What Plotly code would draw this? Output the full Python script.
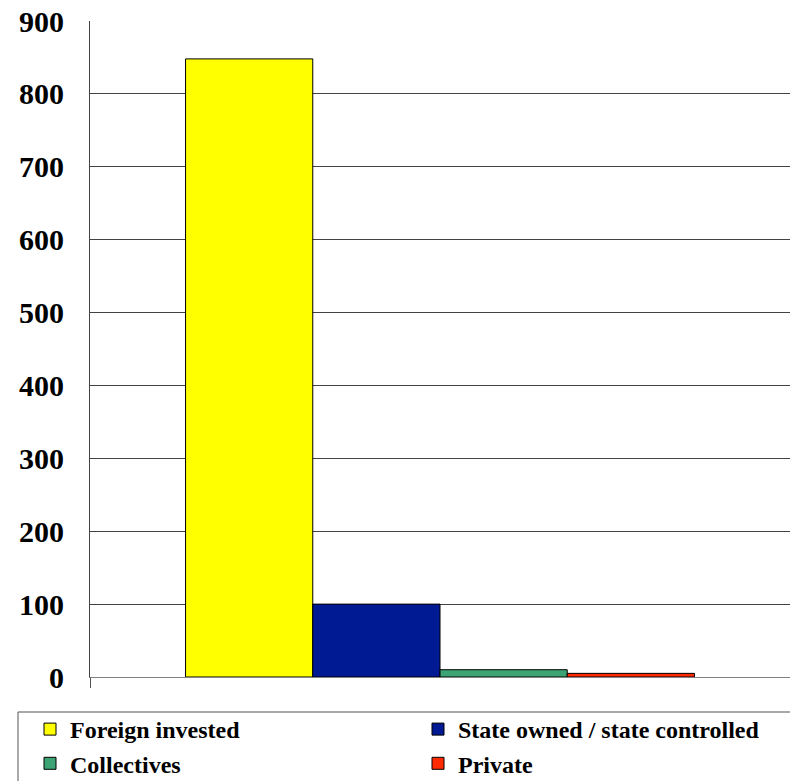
import plotly.graph_objects as go

# Ownership categories and their values
series_names = ["Foreign invested", "State owned / state controlled", "Collectives", "Private"]
series_values = [848, 100, 10, 5]
series_colors = ["#FFFF00", "#001A94", "#3CA474", "#FF2A00"]
category = [""]
y_ticks = [0, 100, 200, 300, 400, 500, 600, 700, 800, 900]

W, H = 790, 781
M_L, M_R, M_T, M_B = 90, 0, 21, 104
plot_w = W - M_L - M_R
plot_h = H - M_T - M_B


def px_x(p):
    return (p - M_L) / plot_w


def px_y(p):
    return (H - M_B - p) / plot_h


fig = go.Figure()
for name, val, col in zip(series_names, series_values, series_colors):
    fig.add_trace(go.Bar(
        x=category, y=[val], name=name,
        marker=dict(color=col, line=dict(color="#000000", width=1)),
    ))

serif = "Liberation Serif, Times New Roman, serif"

fig.update_layout(
    width=W, height=H,
    margin=dict(l=M_L, r=M_R, t=M_T, b=M_B, pad=0, autoexpand=False),
    paper_bgcolor="white", plot_bgcolor="white",
    barmode="group", bargap=0.273, bargroupgap=0,
    showlegend=True,
    legend=dict(
        orientation="h",
        x=px_x(30), xanchor="left",
        y=px_y(707), yanchor="top",
        entrywidth=343, entrywidthmode="pixels",
        itemwidth=30,
        font=dict(family=serif, size=24, color="#000000", weight="bold"),
        bgcolor="rgba(0,0,0,0)", borderwidth=0,
        traceorder="normal",
    ),
    xaxis=dict(
        range=[-0.5, 0.5],
        showticklabels=False,
        showgrid=False,
        showline=True, linecolor="#808080", linewidth=1,
        ticks="outside", tickson="boundaries", ticklen=10, tickcolor="#555555",
        zeroline=False,
    ),
    yaxis=dict(
        range=[0, 900],
        tickvals=y_ticks,
        ticktext=[str(v) for v in y_ticks],
        showgrid=True, gridcolor="#444444", gridwidth=1,
        showline=True, linecolor="#444444", linewidth=1,
        ticks="", ticklabelstandoff=19,
        tickfont=dict(family=serif, size=30, color="#000000", weight="bold"),
        zeroline=False,
    ),
    shapes=[
        dict(type="rect", xref="paper", yref="paper",
             x0=px_x(18), x1=px_x(805), y0=px_y(712), y1=px_y(800),
             line=dict(color="#555555", width=1), fillcolor="rgba(0,0,0,0)",
             layer="above"),
    ],
)

fig.write_html("out.html")
